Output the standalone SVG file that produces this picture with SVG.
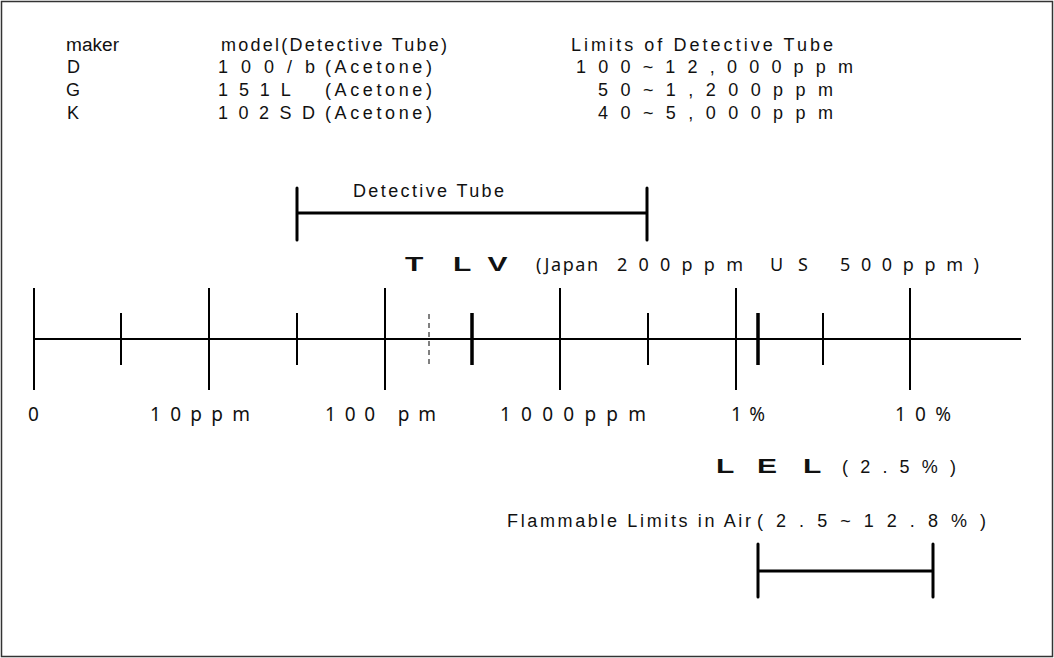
<svg xmlns="http://www.w3.org/2000/svg" width="1054" height="658" viewBox="0 0 1054 658">
<style>
.g{font-family:"Liberation Sans",Arial,sans-serif;font-size:18px;fill:#111}
.h{font-family:"Noto Sans","Open Sans",sans-serif;font-size:18px;fill:#111}
.ax{font-family:"Noto Sans","Open Sans",sans-serif;font-size:19px;fill:#111}
.big{font-family:"Liberation Sans",Arial,sans-serif;font-size:20px;font-weight:bold;fill:#111}
.tk{stroke:#000;stroke-width:2;fill:none}
.tk3{stroke:#000;stroke-width:3.5;fill:none}
.br{stroke:#000;stroke-width:3;fill:none;stroke-linecap:round}
</style>
<rect x="0" y="0" width="1054" height="658" fill="#fff"/>
<rect x="1.5" y="1.5" width="1051" height="655" fill="none" stroke="#333" stroke-width="1.5"/>

<g id="table">
  <text class="g" x="66" y="51" textLength="53" lengthAdjust="spacingAndGlyphs">maker</text>
  <text class="g" x="221" y="51" textLength="226" lengthAdjust="spacing">model(Detective Tube)</text>
  <text class="g" x="571" y="51" textLength="262" lengthAdjust="spacing">Limits of Detective Tube</text>
  <text class="g" x="67" y="73">D</text>
  <text class="g" x="66" y="96">G</text>
  <text class="g" x="67" y="119">K</text>
  <text class="g" y="73"><tspan x="218" textLength="97" lengthAdjust="spacing">100/b</tspan> <tspan x="325" textLength="107" lengthAdjust="spacing">(Acetone)</tspan></text>
  <text class="g" y="96"><tspan x="218" textLength="72" lengthAdjust="spacing">151L</tspan> <tspan x="325" textLength="107" lengthAdjust="spacing">(Acetone)</tspan></text>
  <text class="g" y="119"><tspan x="218" textLength="97" lengthAdjust="spacing">102SD</tspan> <tspan x="325" textLength="107" lengthAdjust="spacing">(Acetone)</tspan></text>
  <text class="g" x="576" y="73" textLength="277" lengthAdjust="spacing">100~12,000ppm</text>
  <text class="g" x="598" y="96" textLength="235" lengthAdjust="spacing">50~1,200ppm</text>
  <text class="g" x="598" y="119" textLength="235" lengthAdjust="spacing">40~5,000ppm</text>
</g>

<g id="detective-tube">
  <path class="br" d="M297 188V240M297 213H647M647 188V240"/>
  <text class="g" x="353" y="197" textLength="151" lengthAdjust="spacing">Detective Tube</text>
</g>

<g id="tlv">
  <text class="big" transform="translate(0,271) scale(1.5,1)" x="270 302 325" y="0">TLV</text>
  <text class="h" y="271"><tspan x="536" textLength="62" lengthAdjust="spacing">(Japan</tspan> <tspan x="617" textLength="126" lengthAdjust="spacing">200ppm</tspan> <tspan x="770" textLength="38" lengthAdjust="spacing">US</tspan> <tspan x="840" textLength="139" lengthAdjust="spacing">500ppm)</tspan></text>
</g>

<g id="connectors">
  <line class="tk" x1="34" y1="339" x2="1021" y2="339"/>
  <path class="tk" d="M34 288V390M209 288V390M385 288V390M560 288V390M736 288V390M910 288V390"/>
  <path class="tk" d="M121 313V365M297 313V365M648 313V365M823 313V365"/>
  <path class="tk3" d="M472 313V365M758 313V365"/>
  <line x1="429" y1="314" x2="429" y2="365" stroke="#000" stroke-width="1" stroke-dasharray="5,4"/>
</g>

<g id="axis-labels">
  <text class="ax" x="28" y="421">0</text>
  <text class="ax" x="150" y="421" textLength="100" lengthAdjust="spacing">10ppm</text>
  <text class="ax" x="325" y="421" textLength="111" lengthAdjust="spacing">100 pm</text>
  <text class="ax" x="500" y="421" textLength="146" lengthAdjust="spacing">1000ppm</text>
  <text class="ax" x="731" y="421" textLength="34" lengthAdjust="spacing">1%</text>
  <text class="ax" x="895" y="421" textLength="56" lengthAdjust="spacing">10%</text>
</g>

<g id="lel">
  <text class="big" transform="translate(0,473) scale(1.5,1)" x="477.3 504.7 535.3" y="0">LEL</text>
  <text class="g" x="842" y="473" textLength="114" lengthAdjust="spacing">(2.5%)</text>
</g>

<g id="flammable">
  <text class="g" y="527"><tspan x="507" textLength="244" lengthAdjust="spacing">Flammable Limits in Air</tspan><tspan x="757" textLength="229" lengthAdjust="spacing">(2.5~12.8%)</tspan></text>
  <path class="br" d="M758 544V597M758 571H933M933 544V597"/>
</g>
</svg>
